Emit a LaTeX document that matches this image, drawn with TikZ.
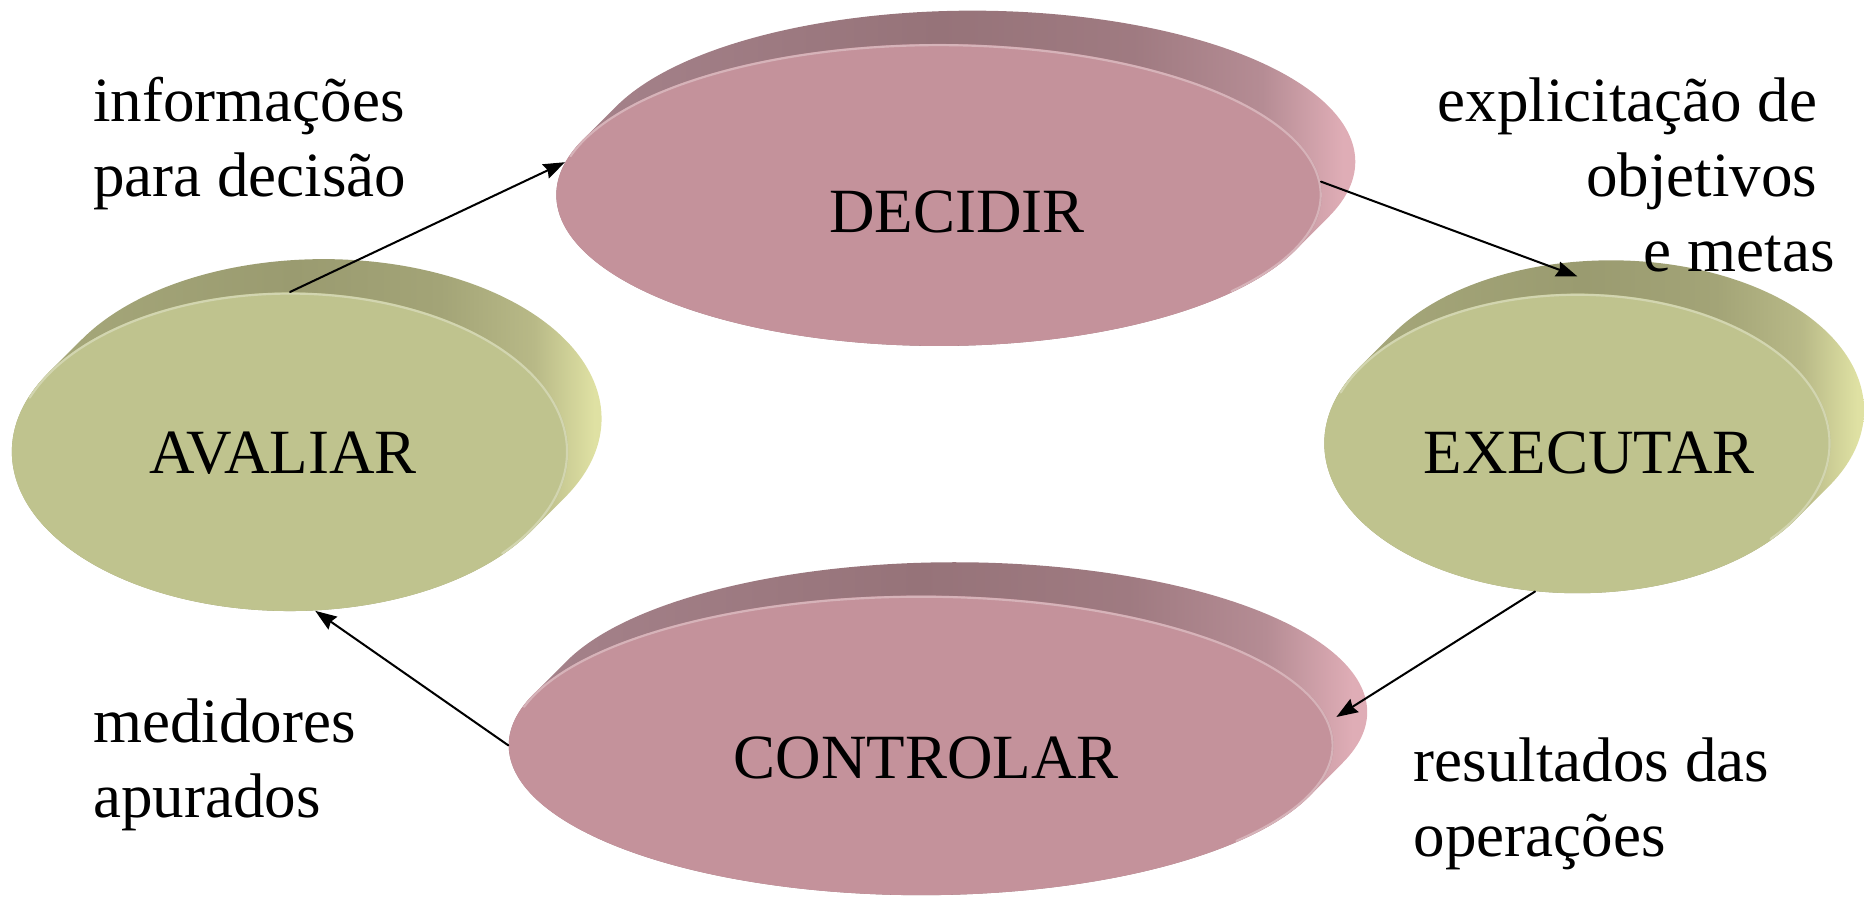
\documentclass[tikz,border=0pt]{standalone}
\usepackage{fontspec}
\setmainfont{Liberation Serif}
\usetikzlibrary{shapes.geometric,arrows.meta}
\definecolor{rosaface}{HTML}{C4929B}
\definecolor{rosaesq}{HTML}{A8858E}
\definecolor{rosaescuro}{HTML}{967379}
\definecolor{rosamedio}{HTML}{B58C94}
\definecolor{rosaclaro}{HTML}{DFADB6}
\definecolor{verdeface}{HTML}{BFC38E}
\definecolor{verdeesq}{HTML}{A9AB7D}
\definecolor{verdeescuro}{HTML}{9A9B70}
\definecolor{verdemedio}{HTML}{B8B987}
\definecolor{verdeclaro}{HTML}{DFE1A3}
\pgfdeclarehorizontalshading{cascarosa}{100bp}{color(0bp)=(rosaesq); color(25bp)=(rosaesq); color(49bp)=(rosaescuro);
  color(60bp)=(rosaescuro!70!rosamedio); color(67bp)=(rosamedio); color(71.5bp)=(rosaclaro); color(100bp)=(rosaclaro)}
\pgfdeclarehorizontalshading{cascaverde}{100bp}{color(0bp)=(verdeesq); color(25bp)=(verdeesq); color(49bp)=(verdeescuro);
  color(60bp)=(verdeescuro!70!verdemedio); color(67bp)=(verdemedio); color(71.5bp)=(verdeclaro); color(100bp)=(verdeclaro)}
\begin{document}
\begin{tikzpicture}[x=0.5pt,y=0.5pt,>={Stealth[length=9pt,width=6.5pt,inset=1pt]},line join=round,line cap=round,
    font=\fontsize{26.5}{31.5}\selectfont,
    face/.style={ellipse,inner sep=0pt,fill=#1},
    borda/.style={draw=#1!70!white,line width=0.9pt},
    seta/.style={->,line width=0.85pt,black}]
\useasboundingbox (0,0) rectangle (1568,754);
\coordinate (cDec) at (790,590);
\coordinate (cAva) at (244,374);
\coordinate (cExe) at (1327,381);
\coordinate (cCon) at (775,127);
% bordas dos discos
\shade[shading=cascarosa] (cDec) ++({-atan(127/322)}:322 and 127) -- ++(28,28)
    arc[start angle={-atan(127/322)},end angle={180-atan(127/322)},x radius=322,y radius=127] -- ++(-28,-28)
    arc[start angle={180-atan(127/322)},end angle={360-atan(127/322)},x radius=322,y radius=127] -- cycle;
\shade[shading=cascaverde] (cAva) ++({-atan(134/234)}:234 and 134) -- ++(28,28)
    arc[start angle={-atan(134/234)},end angle={180-atan(134/234)},x radius=234,y radius=134] -- ++(-28,-28)
    arc[start angle={180-atan(134/234)},end angle={360-atan(134/234)},x radius=234,y radius=134] -- cycle;
\shade[shading=cascaverde] (cExe) ++({-atan(126/213)}:213 and 126) -- ++(28,28)
    arc[start angle={-atan(126/213)},end angle={180-atan(126/213)},x radius=213,y radius=126] -- ++(-28,-28)
    arc[start angle={180-atan(126/213)},end angle={360-atan(126/213)},x radius=213,y radius=126] -- cycle;
\shade[shading=cascarosa] (cCon) ++({-atan(126/347)}:347 and 126) -- ++(28,28)
    arc[start angle={-atan(126/347)},end angle={180-atan(126/347)},x radius=347,y radius=126] -- ++(-28,-28)
    arc[start angle={180-atan(126/347)},end angle={360-atan(126/347)},x radius=347,y radius=126] -- cycle;
% faces
\node[face=rosaface,minimum width=322pt,minimum height=127pt] (decidir) at (cDec) {};
\node[face=verdeface,minimum width=234pt,minimum height=134pt] (avaliar) at (cAva) {};
\node[face=verdeface,minimum width=213pt,minimum height=126pt] (executar) at (cExe) {};
\node[face=rosaface,minimum width=347pt,minimum height=126pt] (controlar) at (cCon) {};
\draw[borda=rosaface] (cDec) ++(165:321 and 126) arc[start angle=165,end angle=-40,x radius=321,y radius=126];
\draw[borda=verdeface] (cAva) ++(160:233 and 133) arc[start angle=160,end angle=-40,x radius=233,y radius=133];
\draw[borda=verdeface] (cExe) ++(160:212 and 125) arc[start angle=160,end angle=-40,x radius=212,y radius=125];
\draw[borda=rosaface] (cCon) ++(165:346 and 125) arc[start angle=165,end angle=-40,x radius=346,y radius=125];
\node[anchor=base] (tDec) at (805,558) {DECIDIR};
\node[anchor=base] (tAva) at (238,356) {AVALIAR};
\node[anchor=base] (tExe) at (1337,356) {EXECUTAR};
\node[anchor=base] (tCon) at (779,99) {CONTROLAR};
% textos das setas
\node[anchor=base west,align=left,inner sep=0pt] (info) at (78,588.6) {informações\\para decisão};
\node[anchor=base east,align=right,inner sep=0pt] (expl) at (1529,525.5) {explicitação de\\objetivos\\e metas\hspace*{-7.3pt}};
\node[anchor=base west,align=left,inner sep=0pt] (medi) at (78,66) {medidores\\apurados};
\node[anchor=base west,align=left,inner sep=0pt] (resu) at (1189,33.4) {resultados das\\operações};
\draw[seta] (avaliar.north) -- (decidir.175);
\draw[seta] (decidir.2) -- ([yshift=7pt]executar.north);
\draw[seta] (executar.254) -- ([xshift=4pt]controlar.4);
\draw[seta] (controlar.west) -- (avaliar.279);
\end{tikzpicture}
\end{document}
